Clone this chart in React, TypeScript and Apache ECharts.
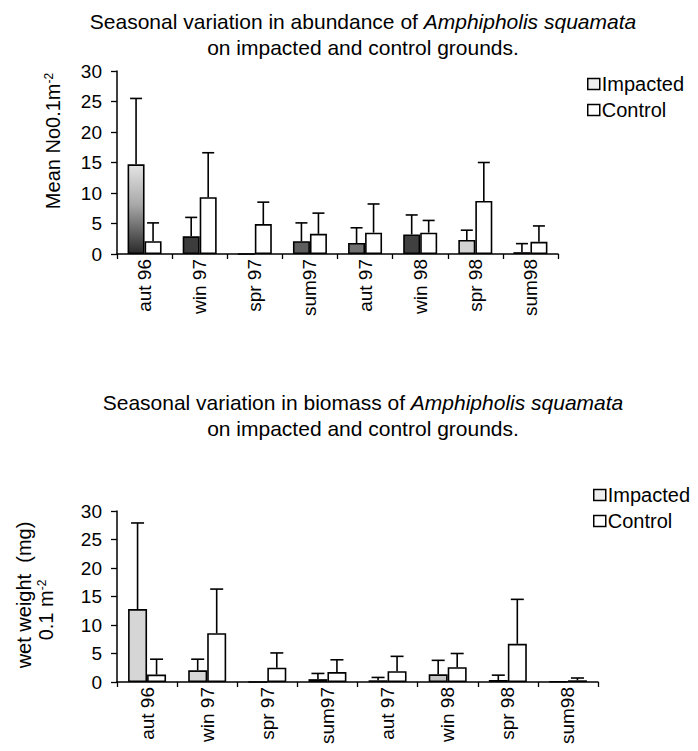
import React, { useEffect, useRef } from "react";
import * as echarts from "echarts";

const categories = ["aut 96", "win 97", "spr 97", "sum97", "aut 97", "win 98", "spr 98", "sum98"];

// Abundance (Mean No 0.1 m-2)
const abundanceImpacted = [14.7, 2.9, 0, 2.1, 1.8, 3.2, 2.3, 0.3];
const abundanceImpactedErr = [10.8, 3.1, 0, 3.0, 2.5, 3.2, 1.6, 1.4];
const abundanceControl = [2.1, 9.3, 4.9, 3.3, 3.5, 3.5, 8.7, 2.0];
const abundanceControlErr = [3.0, 7.3, 3.6, 3.4, 4.7, 2.0, 6.3, 2.6];

// Biomass (wet weight mg 0.1 m-2)
const biomassImpacted = [12.8, 2.05, 0, 0.5, 0.3, 1.35, 0.35, 0.1];
const biomassImpactedErr = [15.1, 1.95, 0, 1.0, 0.5, 2.45, 0.85, 0];
const biomassControl = [1.3, 8.55, 2.5, 1.75, 1.9, 2.6, 6.7, 0.3];
const biomassControlErr = [2.7, 7.75, 2.6, 2.15, 2.6, 2.4, 7.8, 0.4];

const yTicks = { min: 0, max: 30, interval: 5 };

const FONT = "'Liberation Sans', Arial, Helvetica, sans-serif";
const INK = "#000";

const stippleTop = new echarts.graphic.LinearGradient(0, 0, 0, 1, [
  { offset: 0, color: "#e4e4e4" },
  { offset: 0.45, color: "#a8a8a8" },
  { offset: 1, color: "#2a2a2a" },
]);
const impactedFillsTop: any[] = [stippleTop, "#3c3c3c", "#444", "#5e5e5e", "#707070", "#404040", "#d2d2d2", "#333"];
const impactedFillsBottom: any[] = ["#d6d6d6", "#d6d6d6", "#555", "#4a4a4a", "#444", "#c4c4c4", "#555", "#333"];

function errorSeries(name: string, means: number[], errs: number[], gridIdx: number, offset: number, cap: number) {
  return {
    type: "custom",
    name: name + " err",
    xAxisIndex: gridIdx,
    yAxisIndex: gridIdx,
    z: 5,
    silent: true,
    data: means.map((m, i) => [i, m, m + errs[i]]),
    renderItem: (params: any, api: any) => {
      const idx = api.value(0);
      const m = api.value(1);
      const t = api.value(2);
      if (t - m <= 0) return null;
      const b = api.coord([idx, m]);
      const tp = api.coord([idx, t]);
      const x = b[0] + offset;
      const st = { stroke: INK, lineWidth: 1.6 };
      return {
        type: "group",
        children: [
          { type: "line", shape: { x1: x, y1: b[1], x2: x, y2: tp[1] }, style: st },
          { type: "line", shape: { x1: x - cap / 2, y1: tp[1], x2: x + cap / 2, y2: tp[1] }, style: st },
        ],
      };
    },
  };
}

function axisPair(gridIdx: number) {
  return {
    x: {
      type: "category",
      gridIndex: gridIdx,
      data: categories,
      axisLine: { lineStyle: { color: INK, width: 1.5 } },
      axisTick: { show: true, length: 5, lineStyle: { color: INK, width: 1.3 } },
      axisLabel: { rotate: 90, fontSize: 19, color: INK, fontFamily: FONT, margin: 5, interval: 0 },
    },
    y: {
      type: "value",
      gridIndex: gridIdx,
      min: yTicks.min,
      max: yTicks.max,
      interval: yTicks.interval,
      splitLine: { show: false },
      axisLine: { show: true, lineStyle: { color: INK, width: 1.5 } },
      axisTick: { show: true, length: 6, lineStyle: { color: INK, width: 1.3 } },
      axisLabel: { fontSize: 19, color: INK, fontFamily: FONT, margin: 15 },
    },
  };
}

function barSeries(name: string, values: number[], fills: any[] | null, gridIdx: number, width: number) {
  return {
    type: "bar",
    name,
    xAxisIndex: gridIdx,
    yAxisIndex: gridIdx,
    barWidth: width,
    barGap: "0%",
    itemStyle: { color: fills ? "#999" : "#fff", borderColor: INK, borderWidth: 1.6 },
    data: values.map((v, i) => (fills ? { value: v, itemStyle: { color: fills[i] } } : v)),
  };
}

function legend(left: number, top: number) {
  return {
    orient: "vertical",
    left,
    top,
    icon: "rect",
    itemWidth: 12,
    itemHeight: 11,
    itemGap: 6,
    selectedMode: false,
    textStyle: { fontSize: 20, color: INK, fontFamily: FONT, padding: [0, 0, 0, -3] },
    data: [
      { name: "Impacted", itemStyle: { color: "#eeeeee", borderColor: INK, borderWidth: 1.5 } },
      { name: "Control", itemStyle: { color: "#fff", borderColor: INK, borderWidth: 1.5 } },
    ],
  };
}

export default function App() {
  const ref = useRef<HTMLDivElement>(null);
  useEffect(() => {
    if (!ref.current) return;
    const chart = echarts.init(ref.current, undefined, { renderer: "svg" });
    const a0 = axisPair(0);
    const a1 = axisPair(1);
    const titleStyle = (text: string, x: number, y: number) => ({
      type: "text",
      x,
      y,
      style: {
        text,
        align: "center",
        verticalAlign: "middle",
        fontSize: 21,
        fontFamily: FONT,
        fill: INK,
        rich: { i: { fontStyle: "italic", fontSize: 21, fontFamily: FONT, fill: INK } },
      },
    });
    const vText = (text: string, x: number, y: number) => ({
      type: "text",
      x,
      y,
      rotation: Math.PI / 2,
      style: {
        text,
        align: "center",
        verticalAlign: "middle",
        fontSize: 20,
        fontFamily: FONT,
        fill: INK,
        rich: { s: { fontSize: 12, fontFamily: FONT, fill: INK, verticalAlign: "top", padding: [0, 0, 8, 0] } },
      },
    });
    chart.setOption({
      animation: false,
      backgroundColor: "#fff",
      grid: [
        { left: 117, top: 71, width: 441, height: 183 },
        { left: 117, top: 511, width: 481, height: 171 },
      ],
      xAxis: [a0.x, a1.x],
      yAxis: [a0.y, a1.y],
      legend: [legend(582, 69), legend(588, 480)],
      graphic: [
        titleStyle("Seasonal variation in abundance of {i|Amphipholis squamata}", 363, 21),
        titleStyle("on impacted and control grounds.", 363, 47),
        titleStyle("Seasonal variation in biomass of {i|Amphipholis squamata}", 363, 402),
        titleStyle("on impacted and control grounds.", 363, 428),
        vText("Mean No0.1m{s|-2}", 53, 141),
        vText("wet weight  (mg)", 24, 595),
        vText("0.1 m{s|-2}", 46, 610),
      ],
      series: [
        barSeries("Impacted", abundanceImpacted, impactedFillsTop, 0, 17),
        barSeries("Control", abundanceControl, null, 0, 17),
        barSeries("Impacted", biomassImpacted, impactedFillsBottom, 1, 19),
        barSeries("Control", biomassControl, null, 1, 19),
        errorSeries("Impacted", abundanceImpacted, abundanceImpactedErr, 0, -8.5, 12),
        errorSeries("Control", abundanceControl, abundanceControlErr, 0, 8.5, 12),
        errorSeries("Impacted", biomassImpacted, biomassImpactedErr, 1, -9.5, 13),
        errorSeries("Control", biomassControl, biomassControlErr, 1, 9.5, 13),
      ],
    });
    return () => chart.dispose();
  }, []);
  return <div ref={ref} style={{ position: "absolute", left: 0, top: 0, width: 698, height: 751 }} />;
}
